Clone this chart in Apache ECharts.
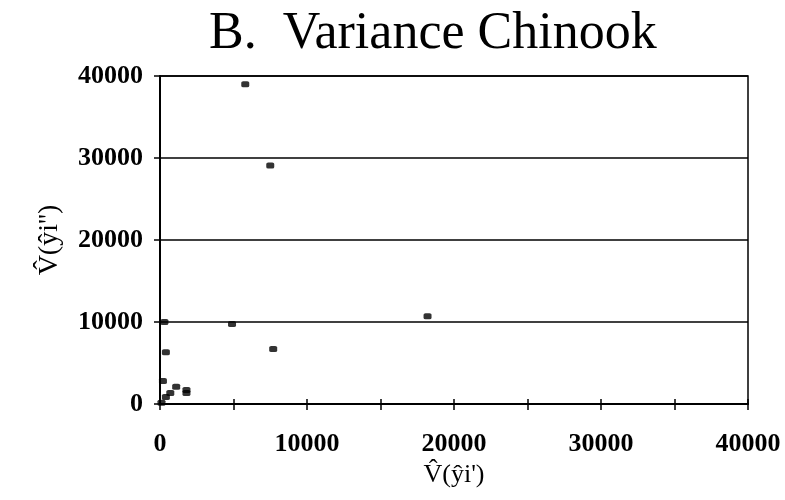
<!DOCTYPE html>
<html><head><meta charset="utf-8">
<script src="https://cdn.jsdelivr.net/npm/echarts@6/dist/echarts.min.js"></script>
<style>html,body{margin:0;padding:0;background:#fff}#c{width:785px;height:500px}</style>
</head><body><div id="c"></div>
<script>
const titleText = 'B.  Variance Chinook';
const xName = 'V\u0302(\u0177i\')';
const yName = 'V\u0302(\u0177i\'\')';
const xValues = [5800, 7500, 18200, 4900, 7700, 400, 300, 200, 1100, 1800, 1800, 700, 400, 100];
const yValues = [39000, 29100, 10700, 9750, 6700, 6300, 10000, 2800, 2100, 1700, 1350, 1350, 850, 150];
const axisMin = 0, axisMax = 40000, axisStep = 10000;

const pts = xValues.map((x, i) => [x, yValues[i]]);
const font = '"Liberation Serif","Times New Roman",serif';
const chart = echarts.init(document.getElementById('c'));
const fmt = v => String(v);
const lbl = {color: '#000', fontFamily: font, fontSize: 26, fontWeight: 'bold', formatter: fmt};
const tickStyle = {color: '#000', width: 1.5};
chart.setOption({
  animation: false,
  backgroundColor: '#fff',
  title: {text: titleText, left: 204, top: 3,
    textStyle: {fontFamily: font, fontSize: 52, fontWeight: 'normal', color: '#000'}},
  grid: {left: 160, right: 37, top: 76, bottom: 96, show: true, borderColor: '#000', borderWidth: 1.5},
  xAxis: [
    {type: 'value', position: 'bottom', min: axisMin, max: axisMax, interval: axisStep,
      name: xName, nameLocation: 'middle', nameGap: 53,
      nameTextStyle: {fontFamily: font, fontSize: 26, color: '#000'},
      axisLine: {show: true, lineStyle: {color: '#000', width: 2}},
      axisTick: {show: true, length: 6, lineStyle: tickStyle},
      minorTick: {show: true, splitNumber: 2, length: 6, lineStyle: tickStyle},
      axisLabel: Object.assign({}, lbl, {margin: 27}),
      splitLine: {show: false}},
    {type: 'value', position: 'bottom', min: axisMin, max: axisMax, interval: axisStep,
      axisLine: {show: false},
      axisTick: {show: true, inside: true, length: 5, lineStyle: tickStyle},
      minorTick: {show: true, splitNumber: 2, length: 5, lineStyle: tickStyle},
      axisLabel: {show: false}, splitLine: {show: false}}
  ],
  yAxis: [
    {type: 'value', position: 'left', min: axisMin, max: axisMax, interval: axisStep,
      name: yName, nameLocation: 'middle', nameGap: 96, nameRotate: 90,
      nameTextStyle: {fontFamily: font, fontSize: 28, color: '#000'},
      axisLine: {show: true, lineStyle: {color: '#000', width: 2}},
      axisTick: {show: true, length: 6, lineStyle: tickStyle},
      axisLabel: Object.assign({}, lbl, {margin: 17}),
      splitLine: {show: true, lineStyle: {color: '#000', width: 1.5}}}
  ],
  series: [{
    type: 'scatter', xAxisIndex: 0, yAxisIndex: 0, data: pts,
    symbol: 'roundRect', symbolSize: [8, 6],
    itemStyle: {color: '#000'}
  }]
});
</script></body></html>
